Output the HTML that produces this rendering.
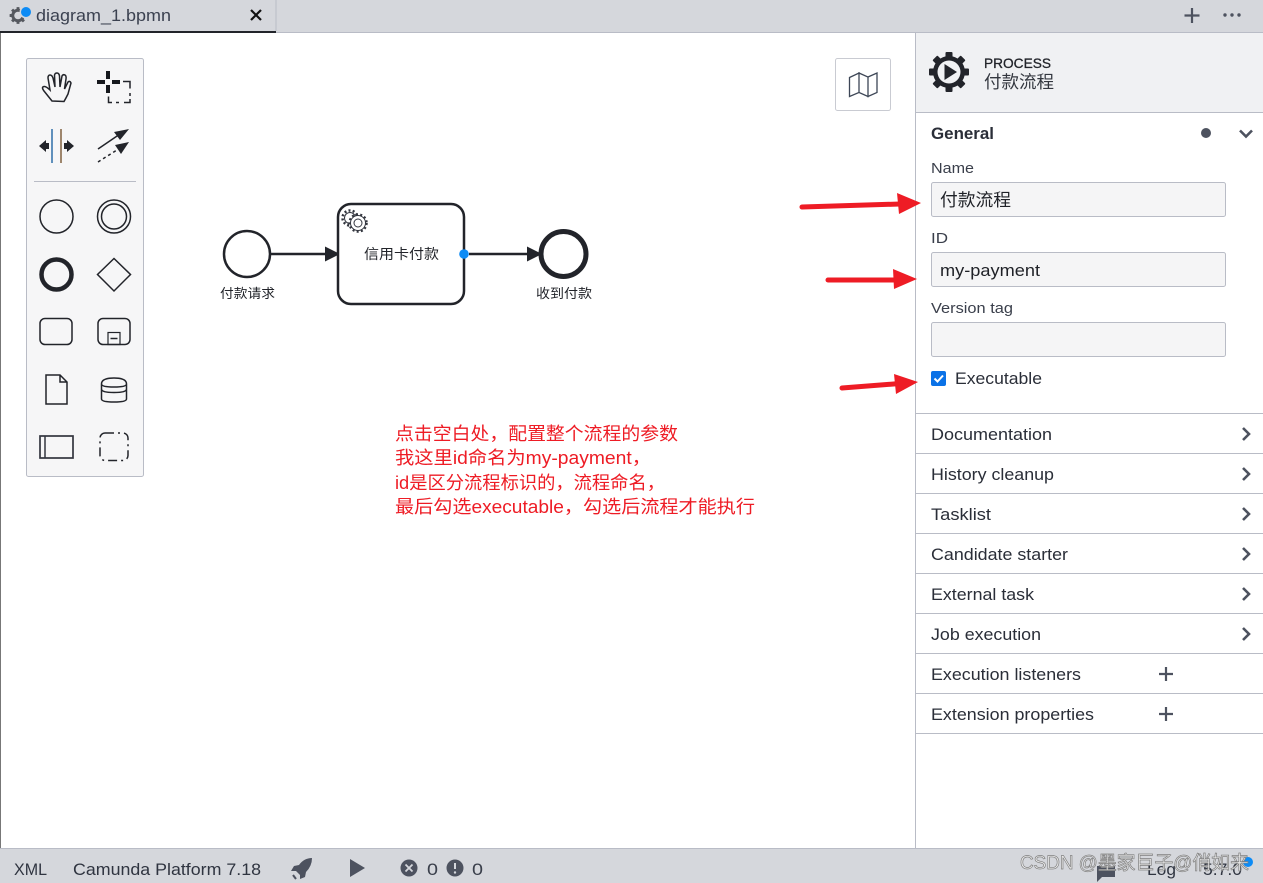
<!DOCTYPE html>
<html><head><meta charset="utf-8"><style>
html,body{margin:0;padding:0;background:#fff;width:1263px;height:883px;overflow:hidden}
svg{display:block}
text{font-family:"Liberation Sans","Noto Sans CJK SC",sans-serif;fill:#22242a}
.l{font-size:16.5px;fill:#2a2e38}
.s{font-size:15px;fill:#3a3f4b}
.c{font-size:13px;fill:#22242a}
.r{font-size:18px;fill:#ee1c25}
.chev{fill:none;stroke:#4d525f;stroke-width:2.600}
.ic{fill:none;stroke:#22242a;stroke-width:1.500}
</style></head><body>
<svg width="1263" height="883" viewBox="0 0 1263 883" xmlns="http://www.w3.org/2000/svg">
<defs>
<g id="teeth">
<rect x="-3.500" y="-20" width="7" height="40" rx="1"/>
<rect x="-3.500" y="-20" width="7" height="40" rx="1" transform="rotate(45)"/>
<rect x="-3.500" y="-20" width="7" height="40" rx="1" transform="rotate(90)"/>
<rect x="-3.500" y="-20" width="7" height="40" rx="1" transform="rotate(135)"/>
<circle r="16"/>
</g>
</defs>
<rect width="1263" height="883" fill="#fff"/>
<!-- top bar -->
<rect width="1263" height="33" fill="#d5d7dc"/>
<rect x="0" y="32" width="1263" height="1" fill="#b9bcc6"/>
<rect x="0" y="31" width="276" height="2" fill="#22242a"/>
<rect x="275.500" y="0" width="1" height="31" fill="#b9bcc6"/>
<g transform="translate(18,15.500) scale(.42)" fill="#55585f"><use href="#teeth"/><circle r="9" fill="#d5d7dc"/></g>
<circle cx="26" cy="12" r="6.500" fill="#d5d7dc"/>
<circle cx="26" cy="12" r="5" fill="#0d8bf5"/>
<text x="36" y="21" class="l" textLength="135" lengthAdjust="spacingAndGlyphs" style="fill:#3b4150;font-size:17px">diagram_1.bpmn</text>
<path d="M251 10L261 20M261 10L251 20" stroke="#111" stroke-width="2.200"/>
<path d="M1192 8v15M1184.500 15.500h15" stroke="#4d525f" stroke-width="2.200"/>
<circle cx="1225" cy="15" r="1.700" fill="#4d525f"/><circle cx="1232" cy="15" r="1.700" fill="#4d525f"/><circle cx="1239" cy="15" r="1.700" fill="#4d525f"/>
<!-- left edge -->
<rect x="0" y="33" width="1" height="816" fill="#777"/>
<!-- palette -->
<rect x="26.500" y="58.500" width="117" height="418" rx="2" fill="#f6f6f7" stroke="#b9bcc6"/>
<rect x="34" y="181" width="102" height="1" fill="#b9bcc6"/>
<path class="ic" d="M52 101L44 91Q41 87 44 86.500Q46 86 50 90L48 78Q48 75 50 75Q52 75 53 78L55 87L54.500 75Q55 73 57 73Q59 73 59.500 76L60 87L62 76Q63 74 65 75Q66.500 76 66 79L64.500 89L68 82Q70 80.500 71 83L68 94Q66 98 64 101.500Z"/>
<path d="M108 71v8M108 85v8M97 82h8M112 82h8" stroke="#16181d" stroke-width="4" fill="none"/>
<path d="M123 81.500h7v7M130 93v3M130 99v3.500h-6M119 102.500h-3M112 102.500h-3.500v-6" fill="none" stroke="#22242a" stroke-width="1.500"/>
<path d="M52 129v34" stroke="#2f6ea8" stroke-width="1.500"/><path d="M61 129v34" stroke="#80603f" stroke-width="1.500"/>
<path d="M39 146l7-6v3h3v6h-3v3zM74 146l-7-6v3h-3v6h3v3z" fill="#22242a"/>
<path d="M98 149L120 134" stroke="#22242a" stroke-width="1.500"/><path d="M129 129l-15 3 6 8z" fill="#22242a"/>
<path d="M98 162L120 148" stroke="#22242a" stroke-width="1.500" stroke-dasharray="3 3"/><path d="M129 142l-14 3 6 9z" fill="#22242a"/>
<circle cx="56.500" cy="216.500" r="16.500" class="ic"/>
<circle cx="114" cy="216.500" r="16.500" class="ic"/><circle cx="114" cy="216.500" r="12.500" class="ic"/>
<circle cx="56.500" cy="274.500" r="15" fill="none" stroke="#22242a" stroke-width="4.500"/>
<path class="ic" d="M114 258.500L130.500 274.500L114 291L97.500 274.500Z"/>
<rect x="40" y="318.500" width="32" height="26" rx="5" class="ic"/>
<rect x="98" y="318.500" width="32" height="26" rx="5" class="ic"/>
<rect x="108" y="332.500" width="12" height="12" fill="none" stroke="#22242a" stroke-width="1.200"/><path d="M110.500 338.500h7" stroke="#22242a" stroke-width="1.500"/>
<path class="ic" d="M46 375H60L67 382V404H46ZM60 375V382H67"/>
<path class="ic" d="M101.500 384V399Q101.500 402 114 402Q126.500 402 126.500 399V384Q126.500 378 114 378Q101.500 378 101.500 384ZM101.500 384Q101.500 387 114 387Q126.500 387 126.500 384M101.500 389Q101.500 392.500 114 392.500Q126.500 392.500 126.500 389"/>
<rect x="40" y="436" width="33" height="22" fill="none" stroke="#33363f" stroke-width="1.700"/><path d="M45 436v22" stroke="#33363f" stroke-width="1.500"/>
<rect x="100" y="433" width="28" height="27.500" rx="5" fill="none" stroke="#22242a" stroke-width="1.500" stroke-dasharray="9 4 2 4"/>
<!-- map button -->
<rect x="835.500" y="58.500" width="55" height="52" rx="2" fill="#fff" stroke="#c9cbd2"/>
<path d="M849.500 77.500L859 73V92.500L849.500 96.500ZM859 73L868 77V96.500L859 92.500ZM868 77L877 73V92.500L868 96.500Z" fill="none" stroke="#3d4656" stroke-width="1.300"/>
<!-- diagram -->
<circle cx="247" cy="254" r="23" fill="#fff" stroke="#22242a" stroke-width="2.500"/>
<path d="M271 254H328" stroke="#22242a" stroke-width="2.500"/><path d="M340 254L325 246.500V261.500Z" fill="#22242a"/>
<rect x="338" y="204" width="126" height="100" rx="13" fill="#fff" stroke="#22242a" stroke-width="2.500"/>
<g fill="none" stroke="#33363f" stroke-width="1">
<circle cx="350" cy="218" r="5.500"/><circle cx="350" cy="218" r="7.500" stroke-width="2.500" stroke-dasharray="2 2.200"/>
<circle cx="358" cy="223" r="7.500" fill="#fff"/><circle cx="358" cy="223" r="8.500" stroke-width="2.500" stroke-dasharray="2 2.200"/><circle cx="358" cy="223" r="4"/>
</g>
<text x="364" y="259" style="font-size:14px" textLength="75" lengthAdjust="spacingAndGlyphs">信用卡付款</text>
<path d="M469 254H531" stroke="#22242a" stroke-width="2.500"/><path d="M542 254L527 246.500V261.500Z" fill="#22242a"/>
<circle cx="464" cy="254" r="4.800" fill="#0d8bf5"/>
<circle cx="563.500" cy="254" r="22.500" fill="#fff" stroke="#22242a" stroke-width="5"/>
<text x="220" y="298" class="c" textLength="55" lengthAdjust="spacingAndGlyphs">付款请求</text>
<text x="536" y="298" class="c" textLength="56" lengthAdjust="spacingAndGlyphs">收到付款</text>
<!-- annotation -->
<text x="395" y="440" class="r" textLength="283" lengthAdjust="spacingAndGlyphs">点击空白处，配置整个流程的参数</text>
<text x="395" y="464" class="r" textLength="256" lengthAdjust="spacingAndGlyphs">我这里id命名为my-payment，</text>
<text x="395" y="489" class="r" textLength="270" lengthAdjust="spacingAndGlyphs">id是区分流程标识的，流程命名，</text>
<text x="395" y="513" class="r" textLength="360" lengthAdjust="spacingAndGlyphs">最后勾选executable，勾选后流程才能执行</text>
<!-- properties panel -->
<rect x="915" y="33" width="348" height="80" fill="#f0f1f3"/>
<rect x="915" y="33" width="1" height="816" fill="#b9bcc6"/>
<rect x="916" y="112" width="347" height="1" fill="#b9bcc6"/>
<g transform="translate(949,72)" fill="#22242a"><use href="#teeth"/><circle r="11.500" fill="#f0f1f3"/><circle r="10" fill="none" stroke="#22242a" stroke-width="0"/></g>
<path d="M944.500 64L957 72L944.500 80Z" fill="#22242a"/>
<text x="984" y="68" style="font-size:14px;stroke:#22242a;stroke-width:.3" textLength="67" lengthAdjust="spacingAndGlyphs">PROCESS</text>
<text x="984" y="88" style="font-size:17.500px;fill:#33373f" textLength="70" lengthAdjust="spacingAndGlyphs">付款流程</text>
<text x="931" y="139" style="font-size:16.500px;font-weight:700;fill:#2a2e38" textLength="63" lengthAdjust="spacingAndGlyphs">General</text>
<circle cx="1206" cy="133" r="5" fill="#4d525f"/>
<path class="chev" d="M1240 130.500L1246 136.500L1252 130.500"/>
<text x="931" y="173" class="s" textLength="43" lengthAdjust="spacingAndGlyphs">Name</text>
<rect x="931.500" y="182.500" width="294" height="34" rx="2" fill="#f5f5f6" stroke="#b9bcc6"/>
<text x="940" y="206" style="font-size:17.500px;fill:#1f2127" textLength="71" lengthAdjust="spacingAndGlyphs">付款流程</text>
<text x="931" y="243" class="s" textLength="17" lengthAdjust="spacingAndGlyphs">ID</text>
<rect x="931.500" y="252.500" width="294" height="34" rx="2" fill="#f5f5f6" stroke="#b9bcc6"/>
<text x="940" y="276" style="font-size:17px;fill:#1f2127" textLength="100" lengthAdjust="spacingAndGlyphs">my-payment</text>
<text x="931" y="313" class="s" textLength="82" lengthAdjust="spacingAndGlyphs">Version tag</text>
<rect x="931.500" y="322.500" width="294" height="34" rx="2" fill="#f5f5f6" stroke="#b9bcc6"/>
<rect x="931" y="371" width="15" height="15" rx="2" fill="#0b72e7"/>
<path d="M934.500 378.500L937.500 381.500L943 375.500" fill="none" stroke="#fff" stroke-width="2"/>
<text x="955" y="384" class="l" textLength="87" lengthAdjust="spacingAndGlyphs">Executable</text>
<rect x="916" y="413" width="347" height="1" fill="#b9bcc6"/>
<text x="931" y="440" class="l" textLength="121" lengthAdjust="spacingAndGlyphs">Documentation</text>
<path class="chev" d="M1243 428L1249 434L1243 440"/>
<rect x="916" y="453" width="347" height="1" fill="#b9bcc6"/>
<text x="931" y="480" class="l" textLength="123" lengthAdjust="spacingAndGlyphs">History cleanup</text>
<path class="chev" d="M1243 468L1249 474L1243 480"/>
<rect x="916" y="493" width="347" height="1" fill="#b9bcc6"/>
<text x="931" y="520" class="l" textLength="60" lengthAdjust="spacingAndGlyphs">Tasklist</text>
<path class="chev" d="M1243 508L1249 514L1243 520"/>
<rect x="916" y="533" width="347" height="1" fill="#b9bcc6"/>
<text x="931" y="560" class="l" textLength="137" lengthAdjust="spacingAndGlyphs">Candidate starter</text>
<path class="chev" d="M1243 548L1249 554L1243 560"/>
<rect x="916" y="573" width="347" height="1" fill="#b9bcc6"/>
<text x="931" y="600" class="l" textLength="103" lengthAdjust="spacingAndGlyphs">External task</text>
<path class="chev" d="M1243 588L1249 594L1243 600"/>
<rect x="916" y="613" width="347" height="1" fill="#b9bcc6"/>
<text x="931" y="640" class="l" textLength="110" lengthAdjust="spacingAndGlyphs">Job execution</text>
<path class="chev" d="M1243 628L1249 634L1243 640"/>
<rect x="916" y="653" width="347" height="1" fill="#b9bcc6"/>
<text x="931" y="680" class="l" textLength="150" lengthAdjust="spacingAndGlyphs">Execution listeners</text>
<path d="M1166 667v14M1159 674h14" stroke="#4d525f" stroke-width="2.200"/>
<rect x="916" y="693" width="347" height="1" fill="#b9bcc6"/>
<text x="931" y="720" class="l" textLength="163" lengthAdjust="spacingAndGlyphs">Extension properties</text>
<path d="M1166 707v14M1159 714h14" stroke="#4d525f" stroke-width="2.200"/>
<rect x="916" y="733" width="347" height="1" fill="#b9bcc6"/>
<!-- red arrows -->
<path d="M802 207L900 204" stroke="#ee1c25" stroke-width="5" stroke-linecap="round"/><path d="M897 193L921 203L899 214Z" fill="#ee1c25"/>
<path d="M828 280L900 280" stroke="#ee1c25" stroke-width="5" stroke-linecap="round"/><path d="M893 269L917 279L894 289Z" fill="#ee1c25"/>
<path d="M842 388L900 383.500" stroke="#ee1c25" stroke-width="5" stroke-linecap="round"/><path d="M894 374L918 382L896 394Z" fill="#ee1c25"/>
<!-- status bar -->
<rect x="0" y="849" width="1263" height="34" fill="#d5d7dc"/>
<rect x="0" y="848" width="1263" height="1" fill="#b9bcc6"/>
<text x="14" y="875" class="l" style="fill:#2f3440" textLength="33" lengthAdjust="spacingAndGlyphs">XML</text>
<text x="73" y="875" class="l" style="fill:#2f3440" textLength="188" lengthAdjust="spacingAndGlyphs">Camunda Platform 7.18</text>
<path d="M312 858Q304 858 299 865L294 866L291 871L296 871L300 875L300 879L305 877L306 872Q312 866 312 858Z" fill="#4d525f"/><path d="M293 875l3 4" stroke="#4d525f" stroke-width="2"/>
<path d="M350 859L365 868L350 877Z" fill="#4d525f"/>
<circle cx="409" cy="868" r="8.500" fill="#4d525f"/><path d="M405.500 864.500L412.500 871.500M412.500 864.500L405.500 871.500" stroke="#d5d7dc" stroke-width="1.800"/>
<text x="427" y="875" class="l" style="fill:#3a3f4b" textLength="11" lengthAdjust="spacingAndGlyphs">0</text>
<circle cx="455" cy="868" r="8.500" fill="#4d525f"/><path d="M455 863v6" stroke="#d5d7dc" stroke-width="2"/><circle cx="455" cy="872.500" r="1.200" fill="#d5d7dc"/>
<text x="472" y="875" class="l" style="fill:#3a3f4b" textLength="11" lengthAdjust="spacingAndGlyphs">0</text>
<path d="M1097 866H1115V877H1102L1097 882Z" fill="#4d525f"/>
<text x="1147" y="875" class="l" style="fill:#2f3440" textLength="29" lengthAdjust="spacingAndGlyphs">Log</text>
<text x="1203" y="875" class="l" style="fill:#2f3440" textLength="39" lengthAdjust="spacingAndGlyphs">5.7.0</text>
<circle cx="1248" cy="862" r="5" fill="#0d8bf5"/>
<!-- watermark -->
<text x="1020" y="869" style="font-size:19px;fill:#ececec;stroke:#808080;stroke-width:.7" textLength="229" lengthAdjust="spacingAndGlyphs">CSDN @墨家巨子@俏如来</text>
</svg>
</body></html>
